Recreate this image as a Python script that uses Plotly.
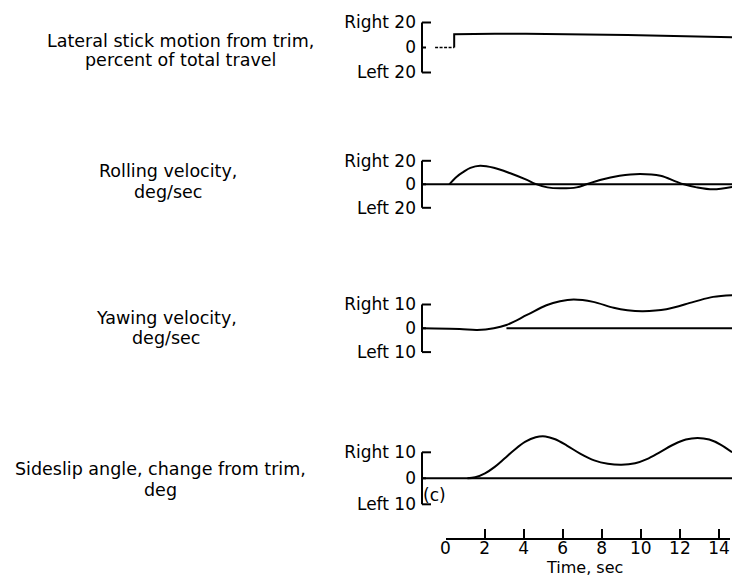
import plotly.graph_objects as go

# ---------------------------------------------------------------- data
# Lateral stick motion from trim, percent of total travel
stick_trim_t = [-0.56, 0.42]          # stick held at trim before the input
stick_trim_v = [0.0, 0.0]
stick_t = [0.42, 0.42, 2.5, 4.1, 9.3, 14.67]
stick_v = [0.0, 10.6, 11.0, 11.0, 10.0, 8.2]

# Rolling velocity, deg/sec (from onset of the response)
roll_t = [0.17, 0.55, 0.9, 1.25, 1.75, 2.45, 3.3, 4.15, 4.55, 5.2, 5.85,
          6.7, 7.2, 7.9, 8.9, 9.95, 11.0, 11.8, 12.2, 12.85, 13.7, 14.67]
roll_v = [0.0, 6.5, 10.6, 14.0, 15.8, 14.1, 9.4, 3.7, 0.6, -2.6, -3.4,
          -2.6, 0.0, 3.7, 7.3, 8.8, 7.3, 2.3, 0.0, -2.6, -4.3, -2.2]

# Yawing velocity, deg/sec
yaw_t = [-1.23, 0.7, 1.6, 2.45, 3.1, 4.15, 5.15, 5.85, 6.55, 7.55, 8.6, 9.3,
         10.1, 11.3, 12.7, 13.7, 14.67]
yaw_v = [0.0, -0.3, -0.7, 0.0, 1.4, 5.6, 9.7, 11.4, 12.1, 11.1, 8.6, 7.6,
         7.2, 8.0, 11.1, 13.2, 13.9]

# Sideslip angle, change from trim, deg (from onset of the response)
beta_t = [1.1, 1.5, 2.0, 2.5, 3.0, 3.5, 4.05, 4.6, 5.1, 5.6, 6.2, 6.9, 7.6,
          8.3, 9.0, 9.7, 10.3, 11.0, 11.7, 12.3, 12.9, 13.5, 14.1, 14.67]
beta_v = [0.0, 0.4, 1.9, 4.4, 7.6, 10.9, 14.0, 15.8, 16.1, 15.0, 12.6, 9.4, 6.9,
          5.6, 5.2, 5.8, 7.4, 10.2, 13.1, 14.9, 15.5, 14.9, 12.9, 10.0]

# extent in time of the zero reference lines drawn under the traces
roll_ref_t = [-1.23, 14.67]
yaw_ref_t = [3.1, 14.67]
beta_ref_t = [-1.23, 14.67]

panel_titles = [
    ["Lateral stick motion from trim,", "percent of total travel"],
    ["Rolling velocity,", "deg/sec"],
    ["Yawing velocity,", "deg/sec"],
    ["Sideslip angle, change from trim,", "deg"],
]
scale_max = [20, 20, 10, 10]
time_ticks = [0, 2, 4, 6, 8, 10, 12, 14]

# ---------------------------------------------------------------- layout (pixels)
W, H = 732, 578
FONT = "DejaVu Sans"
PX_PER_S = 19.5
T0_PX = 446           # horizontal pixel of t = 0
AX_LEFT = 422         # panel axis (bracket) position
# (top, bottom, zero line, pixels per unit)
bands = [(5, 80, 47.5, 1.25),
         (140, 215, 184.3, 1.175),
         (285, 365, 328.3, 2.38),
         (425, 515, 478.3, 2.6)]
# label rows: (x centre, y of first line, y of second line)
title_pos = [(180, 41, 60), (168, 170.5, 192.5), (166, 317.5, 337.5), (160, 468.5, 490)]


def px_x(p):
    return p / W


def px_y(p):
    return 1 - p / H


x_range = [(AX_LEFT - T0_PX) / PX_PER_S, (W - T0_PX) / PX_PER_S]

series = [(stick_t, stick_v, None, "linear"),
          (roll_t, roll_v, roll_ref_t, "spline"),
          (yaw_t, yaw_v, yaw_ref_t, "spline"),
          (beta_t, beta_v, beta_ref_t, "spline")]

fig = go.Figure()
shapes = []
annotations = []
layout = dict(
    width=W, height=H,
    margin=dict(l=0, r=0, t=0, b=0),
    paper_bgcolor="white", plot_bgcolor="white",
    showlegend=False,
    font=dict(family=FONT, color="black", size=17),
)

for i, ((t, v, ref, shape), (top, bot, zero, ppu), R, title, tp) in enumerate(
        zip(series, bands, scale_max, panel_titles, title_pos), start=1):
    xa = "x" if i == 1 else f"x{i}"
    ya = "y" if i == 1 else f"y{i}"
    if ref is not None:
        fig.add_trace(go.Scatter(
            x=ref, y=[0, 0], xaxis=xa, yaxis=ya, mode="lines",
            line=dict(color="black", width=2), hoverinfo="skip"))
    if i == 1:
        fig.add_trace(go.Scatter(
            x=stick_trim_t, y=stick_trim_v, xaxis=xa, yaxis=ya, mode="lines",
            line=dict(color="black", width=1.6, dash="3px,1.5px"), hoverinfo="skip"))
    fig.add_trace(go.Scatter(
        x=t, y=v, xaxis=xa, yaxis=ya, mode="lines",
        line=dict(color="black", width=2, shape=shape, smoothing=1.0),
        hoverinfo="skip", cliponaxis=False))

    y_hi = (zero - top) / ppu
    y_lo = -(bot - zero) / ppu
    layout[f"xaxis{i if i > 1 else ''}"] = dict(
        domain=[px_x(AX_LEFT), 1], range=x_range, anchor=ya,
        visible=False, fixedrange=True)
    layout[f"yaxis{i if i > 1 else ''}"] = dict(
        domain=[px_y(bot), px_y(top)], range=[y_lo, y_hi], anchor=xa,
        showgrid=False, zeroline=False, showline=False, ticks="",
        tickvals=[-R, 0, R], ticktext=[f"Left {R}", "0", f"Right {R}"],
        tickfont=dict(family=FONT, size=17, color="black"),
        ticklabelstandoff=5, automargin=False, fixedrange=True)

    # scale bracket on the left of each panel
    xd = f"{xa} domain"
    bl = dict(color="black", width=2)
    shapes.append(dict(type="line", xref=xd, yref=ya, x0=0, x1=0, y0=-R, y1=R, line=bl))
    for yv, ln in ((R, 9), (-R, 9), (0, 4)):
        shapes.append(dict(type="line", xref=xd, yref=ya, x0=0, x1=ln / (W - AX_LEFT),
                           y0=yv, y1=yv, line=bl))

    # panel description on the left
    cx, y1, y2 = tp
    for line_txt, yy in zip(title, (y1, y2)):
        annotations.append(dict(
            text=line_txt, x=px_x(cx), y=px_y(yy), xref="paper", yref="paper",
            xanchor="center", yanchor="middle", showarrow=False,
            font=dict(family=FONT, size=17.5, color="black")))

annotations.append(dict(
    text="(c)", x=px_x(434), y=px_y(495), xref="paper", yref="paper",
    xanchor="center", yanchor="middle", showarrow=False,
    font=dict(family=FONT, size=17, color="black")))
annotations.append(dict(
    text="Time, sec", x=px_x(584), y=0, xref="paper", yref="paper",
    xanchor="center", yanchor="bottom", showarrow=False, borderpad=0,
    font=dict(family=FONT, size=16, color="black")))

# shared time scale below the panels
t_end = (730 - T0_PX) / PX_PER_S
layout["xaxis5"] = dict(
    domain=[px_x(T0_PX - 0.5), px_x(730)], range=[0, t_end], anchor="y5",
    showline=True, linecolor="black", linewidth=2,
    ticks="inside", ticklen=9, tickwidth=2, tickcolor="black",
    tickvals=time_ticks, ticktext=[str(v) for v in time_ticks],
    tickfont=dict(family=FONT, size=17, color="black"),
    ticklabelstandoff=-6,
    showgrid=False, zeroline=False, automargin=False, fixedrange=True)
layout["yaxis5"] = dict(domain=[px_y(538), px_y(528)], range=[0, 1], anchor="x5",
                        visible=False, fixedrange=True)
fig.add_trace(go.Scatter(x=[None], y=[None], xaxis="x5", yaxis="y5", hoverinfo="skip"))

layout["shapes"] = shapes
layout["annotations"] = annotations
fig.update_layout(**layout)

fig.write_html("out.html", config={"displayModeBar": False})
